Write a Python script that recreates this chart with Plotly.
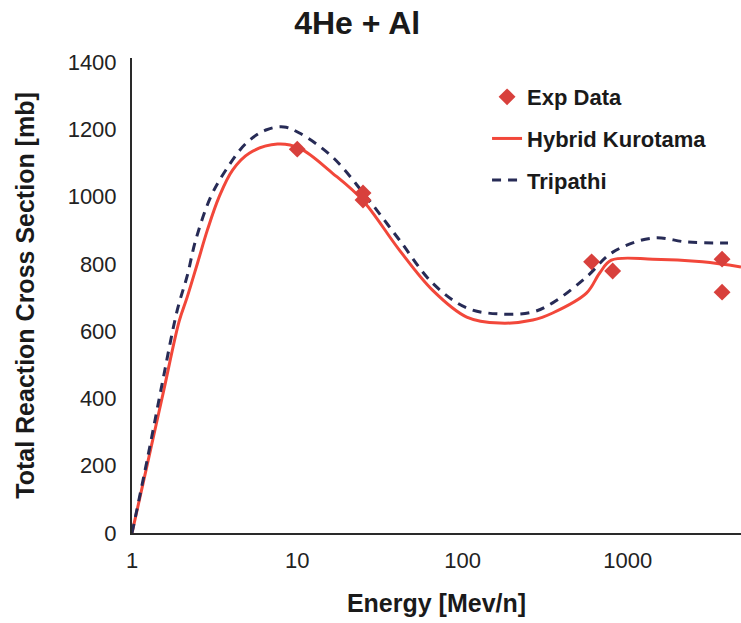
import plotly.graph_objects as go

# Hybrid Kurotama model curve: energy [MeV/n] and cross section [mb]
kurotama_energy = [1, 1.245, 1.55, 1.93, 2.16, 2.49, 2.86, 3.37, 4.06, 5.12, 7.59,
                   10.3, 16.3, 24.8, 41.5, 65.8, 106, 168, 266,
                   351, 562, 676, 795, 1420, 2830, 4840]
kurotama_sigma = [0, 210, 420, 630, 702, 802, 901, 1000, 1079, 1129, 1156,
                  1144, 1070, 990, 841, 722, 642, 624, 633,
                  654, 713, 773, 811, 814, 806, 791]

# Tripathi model curve
tripathi_energy = [1, 1.24, 1.52, 1.88, 2.16, 2.43, 3.0, 3.70, 4.89, 6.46, 8.3,
                   10.3, 16.3, 26.2, 41.5, 65.8, 106, 168, 266,
                   351, 562, 812, 1420, 2280, 4040]
tripathi_sigma = [0, 221, 442, 663, 765, 871, 1000, 1079, 1158, 1198, 1207,
                  1189, 1118, 999, 871, 743, 669, 651, 657,
                  684, 761, 835, 877, 865, 862]

# Experimental measurements
exp_energy = [10, 25, 25, 604, 810, 3720, 3720]
exp_sigma = [1141, 1011, 990, 806, 779, 814, 716]

x_ticks = [1, 10, 100, 1000]
y_ticks = [0, 200, 400, 600, 800, 1000, 1200, 1400]

FONT = "Arial, Liberation Sans, sans-serif"

fig = go.Figure()
fig.add_trace(go.Scatter(
    x=kurotama_energy, y=kurotama_sigma, mode="lines", name="Hybrid Kurotama",
    legendgroup="b", legendrank=2,
    line=dict(color="#f2473a", width=3, shape="spline", smoothing=1.0),
))
fig.add_trace(go.Scatter(
    x=tripathi_energy, y=tripathi_sigma, mode="lines", name="Tripathi",
    legendgroup="c", legendrank=3,
    line=dict(color="#272b56", width=3, dash="9px,7px", shape="spline", smoothing=1.0),
))
# markers drawn last so they sit above the curves
fig.add_trace(go.Scatter(
    x=exp_energy, y=exp_sigma, mode="markers", name="Exp Data",
    legendgroup="a", legendrank=1,
    marker=dict(symbol="diamond", size=13, color="#d8403c", line=dict(width=0)),
))

fig.update_layout(
    width=741, height=623,
    margin=dict(l=132, r=0, t=58, b=90),
    paper_bgcolor="white", plot_bgcolor="white",
    font=dict(family=FONT, color="#222222"),
    title=dict(text="<b>4He + Al</b>", x=0.482, xanchor="center", y=0.964,
               yanchor="middle", font=dict(size=32, color="#1a1a1a", family=FONT)),
    showlegend=True,
    legend=dict(
        x=0.583, y=0.962, xanchor="left", yanchor="top",
        traceorder="grouped", tracegroupgap=10,
        font=dict(size=22, color="#1a1a1a", family=FONT, weight="bold"),
        bgcolor="rgba(0,0,0,0)",
    ),
)
fig.update_xaxes(
    type="log", range=[0, 3.685],
    tickvals=x_ticks, ticktext=[str(v) for v in x_ticks],
    showgrid=False, zeroline=False,
    showline=True, linecolor="#2a2a2a", linewidth=2,
    ticks="", ticklabelstandoff=7, tickfont=dict(size=22, color="#222222"),
    title=dict(text="<b>Energy [Mev/n]</b>", font=dict(size=25, color="#1a1a1a"),
               standoff=22),
)
fig.update_yaxes(
    range=[0, 1412],
    tickvals=y_ticks,
    showgrid=False, zeroline=False,
    showline=True, linecolor="#2a2a2a", linewidth=2,
    ticks="", ticklabelstandoff=9, tickfont=dict(size=22, color="#222222"),
    title=dict(text="<b>Total Reaction Cross Section [mb]</b>",
               font=dict(size=25, color="#1a1a1a"), standoff=26),
)

fig.write_html("out.html")
